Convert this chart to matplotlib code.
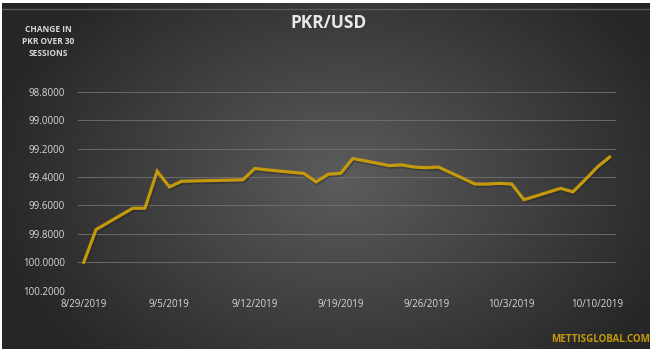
import numpy as np
import pandas as pd
import matplotlib
matplotlib.use("Agg")
import matplotlib.pyplot as plt

dates = ["2019-08-29", "2019-08-30", "2019-09-02", "2019-09-03", "2019-09-04",
         "2019-09-05", "2019-09-06", "2019-09-11", "2019-09-12", "2019-09-13",
         "2019-09-16", "2019-09-17", "2019-09-18", "2019-09-19", "2019-09-20",
         "2019-09-23", "2019-09-24", "2019-09-25", "2019-09-26", "2019-09-27",
         "2019-09-30", "2019-10-01", "2019-10-02", "2019-10-03", "2019-10-04",
         "2019-10-07", "2019-10-08", "2019-10-09", "2019-10-10", "2019-10-11"]
values = [100.00, 99.77, 99.62, 99.62, 99.36,
          99.47, 99.43, 99.42, 99.34, 99.35,
          99.375, 99.435, 99.38, 99.375, 99.27,
          99.32, 99.315, 99.33, 99.335, 99.33,
          99.45, 99.45, 99.445, 99.45, 99.56,
          99.48, 99.505, 99.42, 99.33, 99.26]
ytick_values = [98.8, 99.0, 99.2, 99.4, 99.6, 99.8, 100.0, 100.2]
xtick_dates = ["2019-08-29", "2019-09-05", "2019-09-12", "2019-09-19",
               "2019-09-26", "2019-10-03", "2019-10-10"]

W, H = 656, 353
fig = plt.figure(figsize=(W / 100, H / 100), dpi=100, facecolor="white")

# background panel with radial gradient
bg = fig.add_axes([2 / W, 1 - 349 / H, 648 / W, 346 / H])
bg.set_axis_off()
yy, xx = np.mgrid[0:346, 0:648]
cx, cy = 340, 175
r = np.sqrt(((xx - cx) / 360.0) ** 2 + ((yy - cy) / 260.0) ** 2)
r = np.clip(r, 0, 1)
c_center = np.array([0x5c, 0x5c, 0x5c]) / 255
c_edge = np.array([0x26, 0x26, 0x26]) / 255
img = c_center[None, None, :] * (1 - r[..., None]) + c_edge[None, None, :] * r[..., None]
bg.imshow(img, aspect="auto", extent=[0, 648, 346, 0])
bg.plot([0, 648], [6, 6], color="#5a5a5a", lw=1.0)
bg.set_xlim(0, 648)
bg.set_ylim(346, 0)

ax = fig.add_axes([77.7 / W, 1 - 290.7 / H, (615.7 - 77.7) / W, (290.7 - 91.7) / H])
ax.patch.set_alpha(0)
d = pd.to_datetime(dates)
ax.plot(d, values, color="#1a1a1a", lw=2.6, alpha=0.35, zorder=2,
        transform=ax.transData + matplotlib.transforms.ScaledTranslation(1 / 100, -1.5 / 100, fig.dpi_scale_trans))
ax.plot(d, values, color="#c49a0c", lw=2.3, zorder=3, solid_joinstyle="miter")

ax.set_ylim(100.2, 98.8)
ax.set_yticks(ytick_values)
ax.set_yticklabels([f"{v:.4f}" for v in ytick_values])
x0 = pd.Timestamp("2019-08-28 12:00")
x1 = pd.Timestamp("2019-10-11 12:00")
ax.set_xlim(x0, x1)
xt = pd.to_datetime(xtick_dates)
ax.set_xticks(xt)
ax.set_xticklabels([f"{t.month}/{t.day}/{t.year}" for t in xt])

ax.grid(axis="y", color="#727272", lw=0.6)
ax.set_axisbelow(True)
for s in ax.spines.values():
    s.set_visible(False)
ax.tick_params(length=0, colors="#d9d9d9", labelsize=7)
ax.tick_params(axis="y", pad=9)
ax.tick_params(axis="x", pad=6)
for lab in ax.get_xticklabels() + ax.get_yticklabels():
    lab.set_fontfamily("Open Sans")
    lab.set_color("#d9d9d9")

fig.text(329 / W, 1 - 23 / H, "PKR/USD", ha="center", va="center",
         color="#e8e8e8", fontsize=12.5, fontweight="bold", family="Open Sans")
fig.text(48 / W, 1 - 41.5 / H, "CHANGE IN\nPKR OVER 30\nSESSIONS", ha="center",
         va="center", color="#d9d9d9", fontsize=6, fontweight="bold",
         family="Open Sans", linespacing=1.45)
fig.text(650 / W, 1 - 339 / H, "METTISGLOBAL.COM", ha="right", va="center",
         color="#c49a0c", fontsize=7, fontweight="bold", family="Open Sans")

fig.savefig("out.png", dpi=100, facecolor=fig.get_facecolor())
